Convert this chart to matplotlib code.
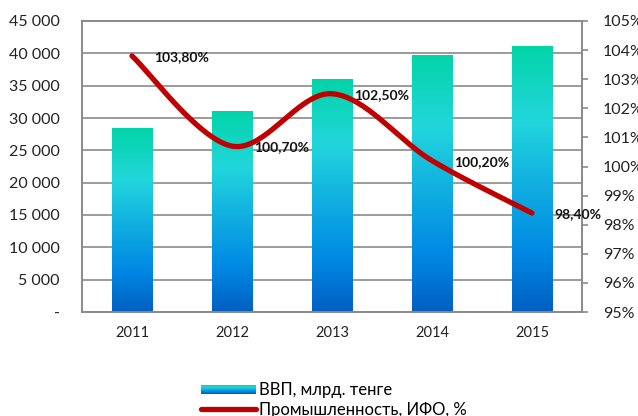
import numpy as np
import matplotlib
matplotlib.use("Agg")
import matplotlib.pyplot as plt
from matplotlib.colors import LinearSegmentedColormap
from matplotlib.legend_handler import HandlerBase
from matplotlib.patches import Rectangle
from matplotlib.lines import Line2D
from matplotlib.ticker import FuncFormatter, MultipleLocator

# данные
years = ['2011', '2012', '2013', '2014', '2015']
gdp = [28300, 31080, 36030, 39740, 40980]
ifo = [103.8, 100.7, 102.5, 100.2, 98.4]
gdp_label = 'ВВП, млрд. тенге'
ifo_label = 'Промышленность, ИФО, %'

plt.rcParams['font.family'] = ['Lato', 'DejaVu Sans']

grid_col = '#8a8a8a'
line_col = '#c00000'
cmap = LinearSegmentedColormap.from_list(
    'bar_grad',
    [(0.0, '#005fc0'), (0.22, '#0088e4'), (0.5, '#12b2e0'),
     (0.72, '#22d6dc'), (1.0, '#03d4a8')])


def smooth(xs, ys, n=40):
    # сглаженная линия как в Excel (кривые Безье)
    pts = np.column_stack([xs, ys]).astype(float)
    ext = np.vstack([pts[0], pts, pts[-1]])
    t = np.linspace(0, 1, n)[:, None]
    out = []
    for i in range(len(pts) - 1):
        p0, p1, p2, p3 = ext[i], ext[i + 1], ext[i + 2], ext[i + 3]
        c1 = p1 + (p2 - p0) / 6
        c2 = p2 - (p3 - p1) / 6
        seg = (1 - t) ** 3 * p1 + 3 * (1 - t) ** 2 * t * c1 + 3 * (1 - t) * t ** 2 * c2 + t ** 3 * p2
        out.append(seg)
    res = np.vstack(out)
    return res[:, 0], res[:, 1]


class GradientHandler(HandlerBase):
    def create_artists(self, legend, orig_handle, xdescent, ydescent,
                       width, height, fontsize, trans):
        arts = []
        n = 20
        h = height * 0.75
        y0 = -ydescent + (height - h) / 2
        for i in range(n):
            r = Rectangle((-xdescent, y0 + h * i / n), width, h / n + 0.2,
                          facecolor=cmap(i / (n - 1)), edgecolor='none',
                          transform=trans)
            arts.append(r)
        return arts


fig = plt.figure(figsize=(6.38, 4.16), dpi=100)
ax = fig.add_axes([82 / 638, 104 / 416, 500 / 638, 291 / 416])

x = np.arange(len(years))
bars = ax.bar(x, gdp, width=0.41, color='none', zorder=2)
grad = np.linspace(0, 1, 256).reshape(-1, 1)
for b in bars:
    ax.imshow(grad, cmap=cmap, origin='lower', aspect='auto', zorder=2,
              extent=[b.get_x(), b.get_x() + b.get_width(), 0, b.get_height()])

ax.set_xlim(-0.5, len(years) - 0.5)
ax.set_ylim(0, 45000)
ax.yaxis.set_major_locator(MultipleLocator(5000))
ax.yaxis.set_major_formatter(FuncFormatter(
    lambda v, p: '-' if v == 0 else f'{int(v):,}'.replace(',', ' ')))
ax.set_xticks(x)
ax.set_xticklabels(years)
ax.grid(axis='y', color=grid_col, linewidth=1.2)
ax.set_axisbelow(True)
for s in ax.spines.values():
    s.set_color(grid_col)
    s.set_linewidth(1.2)
ax.tick_params(axis='y', length=0, pad=16, labelsize=11.5, colors='#222222')
ax.tick_params(axis='x', length=0, pad=10, labelsize=10.5, colors='#222222')

ax2 = ax.twinx()
sx, sy = smooth(x, ifo)
ax2.plot(sx, sy, color=line_col, linewidth=3.8, solid_capstyle='round', zorder=3)
ax2.set_ylim(95, 105)
ax2.yaxis.set_major_locator(MultipleLocator(1))
ax2.yaxis.set_major_formatter(FuncFormatter(lambda v, p: f'{v:.0f}%'))
ax2.tick_params(axis='y', length=4, width=1.2, color=grid_col, pad=11,
                labelsize=11.5, labelcolor='#222222')
for s in ax2.spines.values():
    s.set_color(grid_col)
    s.set_linewidth(1.2)

for xi, v in zip(x, ifo):
    ax2.annotate(f'{v:.2f}'.replace('.', ',') + '%', (xi, v),
                 xytext=(16, -1), textcoords='offset points',
                 ha='left', va='center', fontsize=10, fontweight='bold',
                 color='#111111', zorder=4)

handles = [Rectangle((0, 0), 1, 1), Line2D([], [], color=line_col, linewidth=3.8,
                                           solid_capstyle='round')]
fig.legend(handles, [gdp_label, ifo_label], loc='upper left',
           bbox_to_anchor=(186 / 638, 1 - 367 / 416), frameon=False,
           fontsize=12, handlelength=3.3, handletextpad=0.2, labelspacing=0.25,
           handler_map={Rectangle: GradientHandler()})

fig.savefig('out.png', dpi=100)
